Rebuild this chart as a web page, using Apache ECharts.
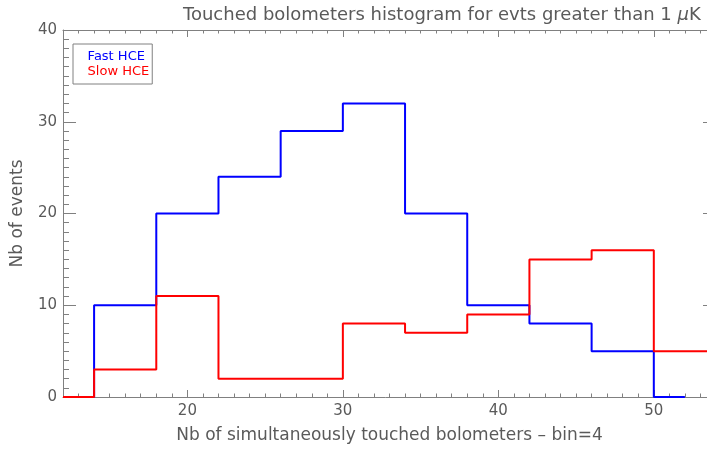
<!DOCTYPE html>
<html>
<head>
<meta charset="utf-8">
<script src="https://cdn.jsdelivr.net/npm/echarts@6/dist/echarts.min.js"></script>
<style>
html,body{margin:0;padding:0;background:#fff;}
#chart{width:707px;height:454px;}
</style>
</head>
<body>
<div id="chart"></div>
<script>
// ---- data (histogram, bin = 4, IDL psym=10 style: values at bin centres) ----
const fastCenters = [12, 16, 20, 24, 28, 32, 36, 40, 44, 48, 52];
const fastHCE     = [0, 10, 20, 24, 29, 32, 20, 10, 8, 5, 0];
const slowCenters = [12, 16, 20, 24, 28, 32, 36, 40, 44, 48, 52, 56];
const slowHCE     = [0, 3, 11, 2, 2, 8, 7, 9, 15, 16, 5, 5];
const xTickLabels = [20, 30, 40, 50];
const yTickLabels = [0, 10, 20, 30, 40];
const seriesNames = ['Fast HCE', 'Slow HCE'];
const titleText = 'Touched bolometers histogram for evts greater than 1 ';

const X_MIN = 12, X_MAX = 54;
const xMinorTicks = [];
for (let v = X_MIN; v <= X_MAX; v++) xMinorTicks.push(v);

const AX = '#808080';
const TXT = '#5a5a5a';
const FONT = 'DejaVu Sans';

function pairs(xs, ys) { return xs.map((x, i) => [x, ys[i]]); }

function xAxisDef(pos, major, withLabels) {
  return {
    type: 'value', position: pos, min: X_MIN, max: X_MAX,
    splitLine: {show: false},
    axisLine: {show: major, lineStyle: {color: AX, width: 1}},
    axisTick: {show: true, inside: true, length: major ? 7 : 3.5,
               customValues: major ? xTickLabels : xMinorTicks,
               lineStyle: {color: AX, width: 1}},
    axisLabel: withLabels ? {show: true, customValues: xTickLabels, margin: 7,
               color: TXT, fontFamily: FONT, fontSize: 15} : {show: false},
    name: withLabels ? 'Nb of simultaneously touched bolometers \u2013 bin=4' : '',
    nameLocation: 'middle', nameGap: 30,
    nameTextStyle: {color: TXT, fontFamily: FONT, fontSize: 17}
  };
}

function yAxisDef(pos, withLabels) {
  return {
    type: 'value', position: pos, min: 0, max: 40, interval: 10,
    splitLine: {show: false},
    axisLine: {show: true, lineStyle: {color: AX, width: 1}},
    axisTick: {show: true, inside: true, length: 13, lineStyle: {color: AX, width: 1}},
    minorTick: {show: true, splitNumber: 10, length: 6, lineStyle: {color: AX, width: 1}},
    axisLabel: withLabels ? {show: true, margin: 6, color: TXT, fontFamily: FONT, fontSize: 15,
               customValues: yTickLabels} : {show: false},
    name: withLabels ? 'Nb of events' : '',
    nameLocation: 'middle', nameGap: 37, nameRotate: 90,
    nameTextStyle: {color: TXT, fontFamily: FONT, fontSize: 17}
  };
}

const chart = echarts.init(document.getElementById('chart'), null, {renderer: 'canvas'});
chart.setOption({
  animation: false,
  backgroundColor: '#ffffff',
  title: {
    text: titleText + '{mu|\u03bc}K',
    left: 178, top: 1,
    textStyle: {color: TXT, fontFamily: FONT, fontSize: 18, fontWeight: 'normal',
      rich: {mu: {fontStyle: 'italic', fontFamily: FONT, fontSize: 18, color: TXT}}}
  },
  legend: {
    data: [
      {name: seriesNames[0], textStyle: {color: '#0000ff'}},
      {name: seriesNames[1], textStyle: {color: '#ff0000'}}
    ],
    orient: 'vertical', left: 73, top: 44,
    padding: [6, 3, 6, 4],
    itemGap: 2, itemWidth: 0, itemHeight: 14,
    itemStyle: {opacity: 0}, lineStyle: {opacity: 0},
    borderColor: AX, borderWidth: 1,
    textStyle: {fontFamily: FONT, fontSize: 13}
  },
  grid: {left: 63, top: 30, width: 653, height: 367, containLabel: false, outerBoundsMode: 'none'},
  xAxis: [
    xAxisDef('bottom', true, true),
    xAxisDef('bottom', false, false),
    xAxisDef('top', true, false),
    xAxisDef('top', false, false)
  ],
  yAxis: [
    yAxisDef('left', true),
    yAxisDef('right', false)
  ],
  series: [
    {
      name: seriesNames[0], type: 'line', step: 'middle', xAxisIndex: 0, yAxisIndex: 0,
      data: pairs(fastCenters, fastHCE), showSymbol: false, symbol: 'none',
      lineStyle: {color: '#0000ff', width: 2}, itemStyle: {color: '#0000ff'}, z: 2
    },
    {
      name: seriesNames[1], type: 'line', step: 'middle', xAxisIndex: 0, yAxisIndex: 0,
      data: pairs(slowCenters, slowHCE), showSymbol: false, symbol: 'none',
      lineStyle: {color: '#ff0000', width: 2}, itemStyle: {color: '#ff0000'}, z: 3
    }
  ]
});
</script>
</body>
</html>
